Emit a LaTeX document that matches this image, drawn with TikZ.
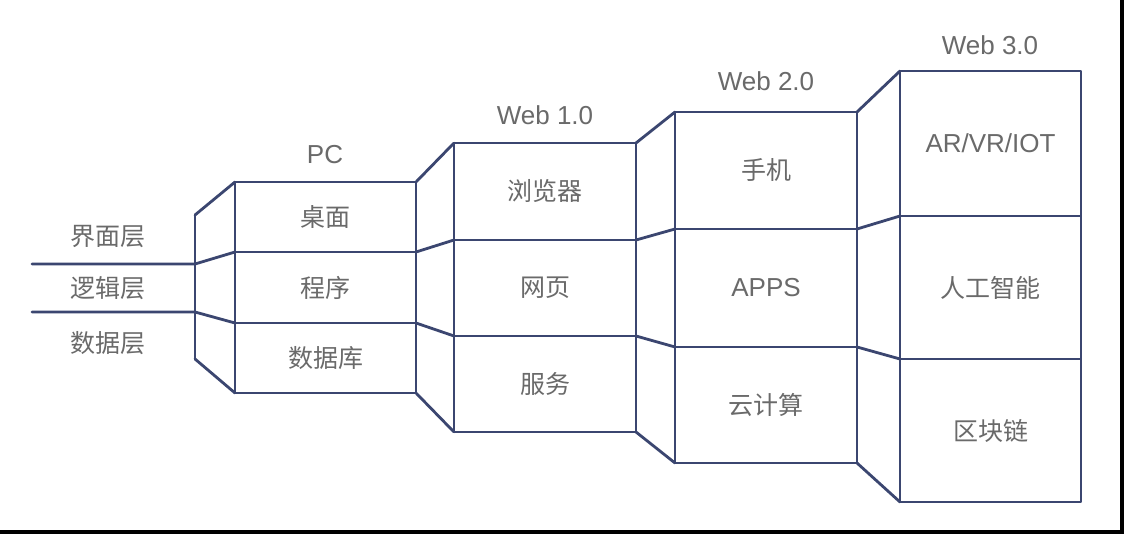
\documentclass[tikz,border=0pt]{standalone}
\usepackage{fontspec}
\setmainfont{Liberation Sans}
\newfontfamily\cjk{Noto Sans CJK SC}
\definecolor{navy}{HTML}{3B4670}
\definecolor{txt}{HTML}{6A6A6A}
\begin{document}
\begin{tikzpicture}[x=1pt,y=-1pt,
  ln/.style={draw=navy,line width=2.8pt,line join=round,line cap=round},
  cell/.style={ln,rectangle,inner sep=0pt,outer sep=0pt,text=txt,font=\cjk\fontsize{25}{29}\selectfont},
  lcell/.style={cell,font=\fontsize{26}{30}\selectfont},
  ttl/.style={text=txt,inner sep=0pt,font=\fontsize{26}{30}\selectfont},
  lbl/.style={text=txt,inner sep=0pt,font=\cjk\fontsize{25}{29}\selectfont}]
\useasboundingbox (0,0) rectangle (1124,534);
\fill[white] (0,0) rectangle (1124,534);
\fill[black] (1120,0) rectangle (1124,534);
\fill[black] (0,530) rectangle (1124,534);
% PC column
\node[cell,minimum width=181,minimum height=70] (p1) at (325.5,217) {桌面};
\node[cell,minimum width=181,minimum height=71] (p2) at (325.5,287.5) {程序};
\node[cell,minimum width=181,minimum height=70] (p3) at (325.5,358) {数据库};
% Web 1.0
\node[cell,minimum width=182,minimum height=97] (a1) at (545,191.5) {浏览器};
\node[cell,minimum width=182,minimum height=96] (a2) at (545,288) {网页};
\node[cell,minimum width=182,minimum height=96] (a3) at (545,384) {服务};
% Web 2.0
\node[cell,minimum width=182,minimum height=117] (b1) at (766,170.5) {手机};
\node[lcell,minimum width=182,minimum height=118] (b2) at (766,288) {APPS};
\node[cell,minimum width=182,minimum height=116] (b3) at (766,405) {云计算};
% Web 3.0
\node[lcell,minimum width=181,minimum height=145] (c1) at (990.5,143.5) {AR/VR/IOT};
\node[cell,minimum width=181,minimum height=143] (c2) at (990.5,287.5) {人工智能};
\node[cell,minimum width=181,minimum height=143] (c3) at (990.5,430.5) {区块链};
% titles
\node[ttl] (tpc) at (325,155) {PC};
\node[ttl] (ta) at (545,115) {Web 1.0};
\node[ttl] (tb) at (766,81) {Web 2.0};
\node[ttl] (tc) at (990,45) {Web 3.0};
% left labels
\node[lbl] (l1) at (108,237) {界面层};
\node[lbl] (l2) at (108,288) {逻辑层};
\node[lbl] (l3) at (108,343) {数据层};
% left funnel
\coordinate (s1) at (32,264);
\coordinate (s2) at (32,312);
\coordinate (f0) at (195,215);
\coordinate (f1) at (195,264);
\coordinate (f2) at (195,312);
\coordinate (f3) at (195,359);
\draw[ln] (f0) -- (f3);
\draw[ln] (p1.north west) -- (f0);
\draw[ln] (p3.south west) -- (f3);
\draw[ln] (s1) -- (f1) -- (p1.south west);
\draw[ln] (s2) -- (f2) -- (p3.north west);
% PC -> Web 1.0
\draw[ln] (p1.north east) -- (a1.north west);
\draw[ln] (p1.south east) -- (a1.south west);
\draw[ln] (p3.north east) -- (a3.north west);
\draw[ln] (p3.south east) -- (a3.south west);
% Web 1.0 -> Web 2.0
\draw[ln] (a1.north east) -- (b1.north west);
\draw[ln] (a1.south east) -- (b1.south west);
\draw[ln] (a3.north east) -- (b3.north west);
\draw[ln] (a3.south east) -- (b3.south west);
% Web 2.0 -> Web 3.0
\draw[ln] (b1.north east) -- (c1.north west);
\draw[ln] (b1.south east) -- (c1.south west);
\draw[ln] (b3.north east) -- (c3.north west);
\draw[ln] (b3.south east) -- (c3.south west);
\end{tikzpicture}
\end{document}
